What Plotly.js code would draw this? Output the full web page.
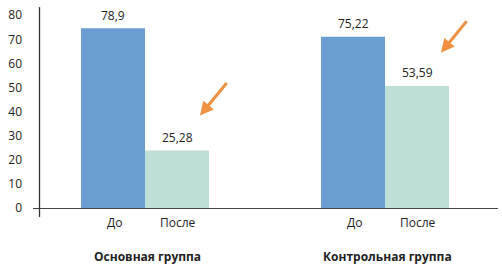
<!DOCTYPE html>
<html>
<head>
<meta charset="utf-8">
<script src="https://cdn.plot.ly/plotly-3.0.1.min.js"></script>
<style>html,body{margin:0;padding:0;background:#fff}#chart{width:502px;height:268px}</style>
</head>
<body>
<div id="chart"></div>
<script>
const groups = ['Основная группа', 'Контрольная группа'];
const seriesNames = ['До', 'После'];
const beforeValues = [78.9, 75.22];
const afterValues = [25.28, 53.59];
const beforeLabels = ['78,9', '75,22'];
const afterLabels = ['25,28', '53,59'];
const yTickLabels = [0, 10, 20, 30, 40, 50, 60, 70, 80];

const FONT = 'Open Sans, Noto Sans, sans-serif';
const TXT = '#222';
const tickScale = 1.058; // axis tick spacing as drawn in the original

const traces = [
  {type: 'bar', name: seriesNames[0], x: groups, y: beforeValues,
   marker: {color: '#6A9ED3'}, hoverinfo: 'none'},
  {type: 'bar', name: seriesNames[1], x: groups, y: afterValues,
   marker: {color: '#BDDFD5'}, hoverinfo: 'none'}
];

const annotations = [];
const valueSets = [[beforeValues, beforeLabels, -32], [afterValues, afterLabels, 32]];
valueSets.forEach(([vals, labs, shift]) => {
  vals.forEach((v, i) => {
    annotations.push({x: i, y: v, xref: 'x', yref: 'y', text: labs[i], showarrow: false,
      xshift: shift, yshift: 13, font: {family: FONT, size: 12, color: TXT}});
  });
});
groups.forEach((g, i) => {
  seriesNames.forEach((s, j) => {
    annotations.push({x: i, y: -0.073, xref: 'x', yref: 'paper', text: s, showarrow: false,
      xshift: j === 0 ? -31 : 33, yanchor: 'middle', font: {family: FONT, size: 12, color: TXT}});
  });
  annotations.push({x: i, y: -0.239, xref: 'x', yref: 'paper', text: '<b>' + g + '</b>', showarrow: false,
    xshift: 2, yanchor: 'middle', font: {family: FONT, size: 12, color: TXT}});
});
// orange arrows
annotations.push({x: 0.229, y: 40.6, xref: 'x', yref: 'y', text: '', showarrow: true,
  ax: 28, ay: -34, arrowhead: 2, arrowsize: 0.9, arrowwidth: 3, arrowcolor: '#EF9140', standoff: 0});
annotations.push({x: 1.233, y: 68.2, xref: 'x', yref: 'y', text: '', showarrow: true,
  ax: 27, ay: -33, arrowhead: 2, arrowsize: 0.9, arrowwidth: 3, arrowcolor: '#EF9140', standoff: 0});

const layout = {
  width: 502, height: 268,
  margin: {l: 33, r: 4, t: 3, b: 60},
  paper_bgcolor: '#fff', plot_bgcolor: '#fff',
  showlegend: false,
  barmode: 'group', bargap: 0.4667, bargroupgap: 0,
  xaxis: {type: 'category', range: [-0.4667, 1.4708], showticklabels: false,
    showgrid: false, zeroline: false, showline: true, linecolor: '#444', linewidth: 1.3,
    ticks: '', fixedrange: true},
  yaxis: {range: [0, 90], showgrid: false, zeroline: false, showline: false,
    tickmode: 'array', tickvals: yTickLabels.map(v => v * tickScale),
    ticktext: yTickLabels.map(String), ticks: '', ticklabelstandoff: 10,
    tickfont: {family: FONT, size: 12, color: TXT}, fixedrange: true},
  shapes: [
    {type: 'line', xref: 'paper', yref: 'paper', x0: 0.014, x1: 0.014, y0: -0.044, y1: 0.98,
     line: {color: '#333', width: 1.3}}
  ],
  annotations: annotations
};

Plotly.newPlot('chart', traces, layout, {displayModeBar: false, staticPlot: true});
</script>
</body>
</html>
